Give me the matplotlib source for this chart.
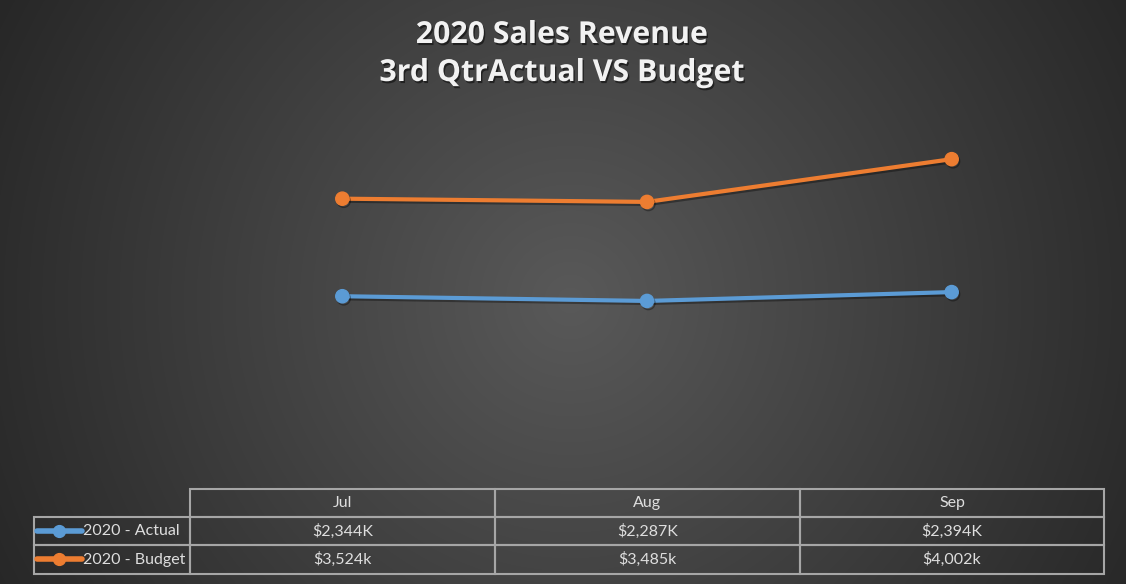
import numpy as np
import matplotlib.pyplot as plt
import matplotlib.patheffects as pe
from matplotlib.lines import Line2D
from matplotlib.table import Table

W, H = 1126, 584
FONT = 'Lato'

months = ['Jul', 'Aug', 'Sep']
series_names = ['2020 - Actual', '2020 - Budget']
actual = [2344, 2287, 2394]
budget = [3524, 3485, 4002]
actual_labels = ['$2,344K', '$2,287K', '$2,394K']
budget_labels = ['$3,524k', '$3,485k', '$4,002k']
colors = ['#5B9BD5', '#ED7D31']

fig = plt.figure(figsize=(W / 100, H / 100), dpi=100)

# radial gradient background
bg = fig.add_axes([0, 0, 1, 1], zorder=-10)
yy, xx = np.mgrid[0:H, 0:W]
r = np.hypot(xx - 570, yy - 300)
r = r / r.max()
shade = (89 - 50 * r) / 255.0
img = np.dstack([shade, shade, shade])
bg.imshow(img, aspect='auto', extent=[0, 1, 0, 1], origin='upper')
bg.axis('off')

# main plot area (pixels: left 190, right 1104, bottom 490, top 118)
ax = fig.add_axes([190 / W, (H - 490) / H, 914 / W, 372 / H])
ax.set_facecolor('none')
x = np.arange(len(months))
shadow = [pe.SimpleLineShadow(offset=(1, -1.5), shadow_color='black', alpha=0.35), pe.Normal()]
for vals, c in zip([actual, budget], colors):
    ax.plot(x, vals, color=c, lw=3, marker='o', ms=9.5, mec=c, mfc=c,
            path_effects=shadow, solid_capstyle='round')
ax.set_xlim(-0.5, 2.5)
ax.set_ylim(0, 4500)
ax.axis('off')

# data table under the plot; bbox covers the data cells, row labels hang left
label_w = 156.3 / 914
col_w = 304.8 / 914
tbl_h = 0.228
row_h = tbl_h / 3
tbl = Table(ax, bbox=[0, -0.225, 3 * col_w, tbl_h])
edge = '#a6a6a6'
for j, m in enumerate(months):
    tbl.add_cell(0, j, col_w, row_h, text=m, loc='center', facecolor='none', edgecolor=edge)
for i, (name, labels) in enumerate(zip(series_names, [actual_labels, budget_labels])):
    c = tbl.add_cell(i + 1, -1, label_w, row_h, text=name, loc='left', facecolor='none', edgecolor=edge)
    c.PAD = 0.317
    for j, t in enumerate(labels):
        tbl.add_cell(i + 1, j, col_w, row_h, text=t, loc='center', facecolor='none', edgecolor=edge)
tbl.auto_set_font_size(False)
tbl.set_fontsize(11.5)
for cell in tbl.get_celld().values():
    cell.set_linewidth(1.5)
    cell.get_text().set_color('#dedede')
    cell.get_text().set_fontfamily(FONT)
ax.add_table(tbl)

# legend keys in the row label cells
for yk, c in zip([530.8, 559.2], colors):
    fig.add_artist(Line2D([36.7 / W, 81.7 / W], [(H - yk) / H] * 2, transform=fig.transFigure,
                          color=c, lw=4, solid_capstyle='round'))
    fig.add_artist(Line2D([59 / W], [(H - yk) / H], transform=fig.transFigure,
                          color=c, marker='o', ms=8.5))

# title
tshadow = [pe.SimplePatchShadow(offset=(1, -1.5), shadow_rgbFace='black', alpha=0.5), pe.Normal()]
for txt, yt in [('2020 Sales Revenue', 35), ('3rd QtrActual VS Budget', 73)]:
    fig.text(562 / W, (H - yt) / H, txt, ha='center', va='center', color='#f2f2f2',
             fontsize=21.8, fontweight='bold', family='Open Sans', path_effects=tshadow)

fig.savefig('out.png', dpi=100)
